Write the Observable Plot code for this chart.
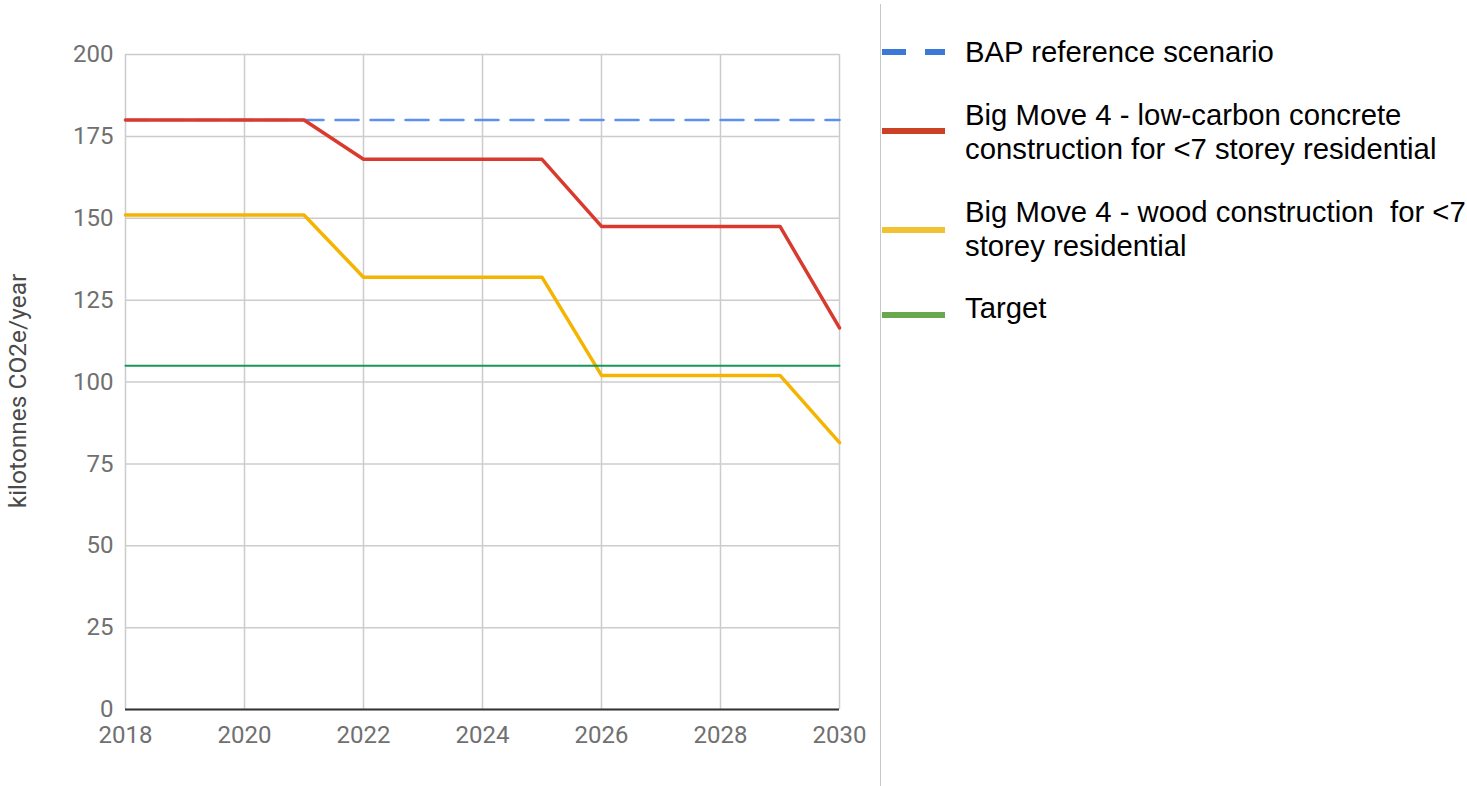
<!DOCTYPE html>
<html>
<head>
<meta charset="utf-8">
<script src="https://cdn.jsdelivr.net/npm/d3@7"></script>
<script src="https://cdn.jsdelivr.net/npm/@observablehq/plot@0.6"></script>
<style>
  html, body { margin: 0; padding: 0; background: #fff; }
  #wrap { position: relative; width: 1467px; height: 786px; overflow: hidden; }
  #chart { position: absolute; left: 0; top: 0; }
  .sep { position: absolute; left: 880px; top: 4px; width: 1px; height: 782px; background: #c8c8c8; }
  .sw { position: absolute; height: 6px; }
  .lt { position: absolute; left: 965px; font-family: "Liberation Sans", Arial, sans-serif;
        font-size: 29.3px; line-height: 34px; color: #000; white-space: pre; }
</style>
</head>
<body>
<div id="wrap">
  <div id="chart"></div>
  <div class="sep"></div>
  <div id="legend"></div>
</div>
<script>
// Years on the horizontal axis
const years = [2018, 2019, 2020, 2021, 2022, 2023, 2024, 2025, 2026, 2027, 2028, 2029, 2030];

// Emissions, kilotonnes CO2e per year
const bapReference = [180, 180, 180, 180, 180, 180, 180, 180, 180, 180, 180, 180, 180];
const lowCarbonConcrete = [180, 180, 180, 180, 168, 168, 168, 168, 147.5, 147.5, 147.5, 147.5, 116.5];
const woodConstruction = [151, 151, 151, 151, 132, 132, 132, 132, 102, 102, 102, 102, 81.5];
const target = [105, 105, 105, 105, 105, 105, 105, 105, 105, 105, 105, 105, 105];

const seriesNames = [
  "BAP reference scenario",
  "Big Move 4 - low-carbon concrete\nconstruction for <7 storey residential",
  "Big Move 4 - wood construction  for <7\nstorey residential",
  "Target"
];

const xTicks = [2018, 2020, 2022, 2024, 2026, 2028, 2030];
const yTicks = [0, 25, 50, 75, 100, 125, 150, 175, 200];
const yLabel = "kilotonnes CO2e/year";

const toRows = (vals) => years.map((year, i) => ({year, value: vals[i]}));
const bapRows = toRows(bapReference);
const concreteRows = toRows(lowCarbonConcrete);
const woodRows = toRows(woodConstruction);
const targetRows = toRows(target);

const lineColors = ["#5b8ff0", "#d93a2e", "#f4b400", "#13985a"];
const legendColors = ["#3c78d8", "#cc4125", "#f1c232", "#6aa84f"];

const tickFont = {fontFamily: "Roboto, sans-serif", fontSize: 24, fill: "#707070"};

const plot = Plot.plot({
  width: 1467,
  height: 786,
  marginLeft: 125,
  marginRight: 628,
  marginTop: 54,
  marginBottom: 77,
  style: {background: "transparent", fontFamily: "Roboto, sans-serif"},
  x: {domain: [2018, 2030]},
  y: {domain: [0, 200]},
  marks: [
    Plot.gridX(xTicks, {stroke: "#cccccc", strokeOpacity: 1, strokeWidth: 1.5}),
    Plot.gridY(yTicks, {stroke: "#cccccc", strokeOpacity: 1, strokeWidth: 1.5}),
    Plot.axisX(xTicks, {tickSize: 0, tickPadding: 16, label: null, tickFormat: d => String(d), ...tickFont, fillOpacity: 1}),
    Plot.axisY(yTicks, {tickSize: 0, tickPadding: 12, label: null, ...tickFont, fillOpacity: 1}),
    Plot.ruleY([0], {stroke: "#333", strokeWidth: 2}),
    Plot.line(bapRows, {x: "year", y: "value", stroke: lineColors[0], strokeWidth: 2.5, strokeDasharray: "23,12"}),
    Plot.line(concreteRows, {x: "year", y: "value", stroke: lineColors[1], strokeWidth: 3.5, strokeLinejoin: "round"}),
    Plot.line(woodRows, {x: "year", y: "value", stroke: lineColors[2], strokeWidth: 3.5, strokeLinejoin: "round"}),
    Plot.line(targetRows, {x: "year", y: "value", stroke: lineColors[3], strokeWidth: 2})
  ]
});
document.getElementById("chart").appendChild(plot);

// Vertical axis title, reading bottom to top
d3.select(plot).append("text")
  .attr("transform", "translate(26,391) rotate(-90)")
  .attr("text-anchor", "middle")
  .attr("font-family", "Roboto, sans-serif")
  .attr("font-size", 24.5)
  .attr("fill", "#4a4a4a")
  .text(yLabel);

// Legend on the right of the divider
const legend = d3.select("#legend");
const swatchY = [52, 131, 230, 315];
const textTop = [35, 98, 195, 291];
seriesNames.forEach((name, i) => {
  if (i === 0) {
    legend.append("div").attr("class", "sw")
      .style("left", "882px").style("width", "24px").style("top", (swatchY[i] - 3) + "px")
      .style("background", legendColors[i]);
    legend.append("div").attr("class", "sw")
      .style("left", "925px").style("width", "20px").style("top", (swatchY[i] - 3) + "px")
      .style("background", legendColors[i]);
  } else {
    legend.append("div").attr("class", "sw")
      .style("left", "882px").style("width", "63px").style("top", (swatchY[i] - 3) + "px")
      .style("background", legendColors[i]);
  }
  legend.append("div").attr("class", "lt").style("top", textTop[i] + "px").text(name);
});
</script>
</body>
</html>
